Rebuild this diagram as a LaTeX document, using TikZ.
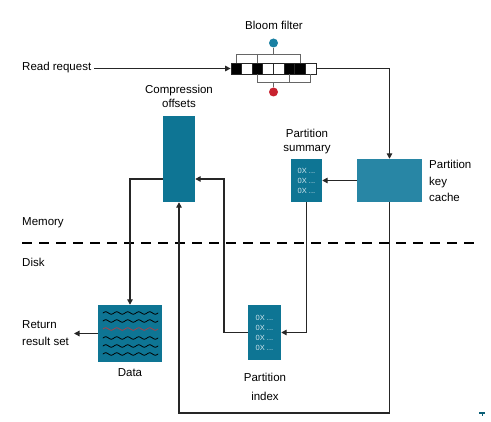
\documentclass[tikz,border=0pt]{standalone}
\usepackage{fontspec}
\setmainfont{Liberation Sans}
\usetikzlibrary{arrows.meta,calc}
\definecolor{teal1}{HTML}{0E7594}
\definecolor{teal2}{HTML}{2886A5}
\definecolor{dotblue}{HTML}{1A80A2}
\definecolor{dotred}{HTML}{C8222F}
\definecolor{wavered}{HTML}{A8404A}
\definecolor{hexcol}{HTML}{CFE4EC}
\tikzset{
  lbl/.style={font=\fontsize{11.5}{14}\selectfont, inner sep=0pt, align=center},
  lbll/.style={font=\fontsize{11.5}{14}\selectfont, inner sep=0pt, align=left},
  tbox/.style={fill=teal1, draw=none, inner sep=0pt},
  hex/.style={font=\fontsize{7.5}{10}\selectfont, text=hexcol, align=left},
  conn/.style={line width=1.3pt, draw=black!85},
  arr/.style={conn, -{Triangle[length=5.5pt,width=5.5pt]}},
  cell/.style={draw=black!85, line width=0.8pt, minimum width=10.625pt, minimum height=11pt, inner sep=0pt},
  brk/.style={draw=black!60, line width=0.8pt},
  wave/.style={line width=0.8pt, line cap=round}
}
\begin{document}
\begin{tikzpicture}[x=1pt,y=-1pt]
\useasboundingbox (0,0) rectangle (491,422);
% labels
\node[lbl] (bftitle) at (274,25) {Bloom filter};
\node[lbll, anchor=west] (readreq) at (22,68) {Read request};
\node[lbl] (complbl) at (179,96) {Compression\\offsets};
\node[lbl] (sumlbl) at (307,142) {Partition\\summary};
\node[lbll, anchor=west, font=\fontsize{11.5}{16.5}\selectfont] (cachelbl) at (429,181) {Partition\\key\\cache};
\node[lbll, anchor=west] (memlbl) at (22,223) {Memory};
\node[lbll, anchor=west] (disklbl) at (22,262) {Disk};
\node[lbll, anchor=west, font=\fontsize{11.5}{16.5}\selectfont] (retlbl) at (22,333) {Return\\result set};
\node[lbl] (datalbl) at (130,373) {Data};
\node[lbl, font=\fontsize{11.5}{19}\selectfont] (idxlbl) at (265,387) {Partition\\index};
% bloom filter cells
\foreach \i/\c in {1/black,2/white,3/black,4/white,5/white,6/black,7/black,8/white}{
  \node[cell, fill=\c] (c\i) at ({231+(\i-0.5)*10.625},68.5) {};
}
% brackets
\coordinate (ub) at (273.5,54);
\coordinate (lb) at (273.5,82);
\draw[brk] (c1.north) -- (c1.north |- ub) -- (c7.north |- ub) -- (c7.north);
\draw[brk] (c3.north |- ub) -- (c3.north);
\draw[brk] (c3.south) -- (c3.south |- lb) -- (c8.south |- lb) -- (c8.south);
\draw[brk] (c6.south |- lb) -- (c6.south);
\node[circle, fill=dotblue, minimum size=9pt, inner sep=0pt] (bdot) at (273.5,43) {};
\node[circle, fill=dotred, minimum size=9pt, inner sep=0pt] (rdot) at (273.5,92) {};
\draw[brk] (bdot) -- (ub);
\draw[brk] (rdot) -- (lb);
% boxes
\node[tbox, minimum width=32pt, minimum height=86pt] (comp) at (179,159) {};
\node[tbox, minimum width=31pt, minimum height=43pt] (sum) at (306.5,180.5) {};
\node[hex] at (sum) {0X ...\\0X ...\\0X ...};
\node[tbox, fill=teal2, minimum width=65pt, minimum height=43pt] (cache) at (389.5,180.5) {};
\node[tbox, minimum width=33pt, minimum height=55pt] (idx) at (264.5,332.5) {};
\node[hex] at (idx) {0X ...\\0X ...\\0X ...\\0X ...};
\node[tbox, minimum width=64pt, minimum height=57pt] (data) at (130,333.5) {};
% waves
\foreach \yy/\cc in {313/black,321/black,329/wavered,338/black,346/black,354/black}{
  \draw[\cc, wave] plot[domain=0:55, samples=80, smooth] ({103+\x}, {\yy-1.2*sin(\x*32.727)});
}
% dashed line
\draw[line width=2.4pt, dash pattern=on 10pt off 7pt] (22,243) -- (476,243);
% connectors
\coordinate (rr) at ($(readreq.east |- c1.west)+(3,0)$);
\coordinate (rt) at (74,333.5);
\draw[arr] (rr) -- (c1.west);
\draw[arr] (c8.east) -| (cache.north);
\draw[arr] (cache.west) -- (sum.east);
\draw[arr] (sum.south) |- (idx.east);
\coordinate (m1) at (224,332.5);
\draw[arr] (idx.west) -- (m1) |- ($(comp.east)+(0,20)$);
\draw[arr] ($(comp.west)+(0,20)$) -| (data.north);
\draw[arr] (data.west) -- (rt);
\coordinate (bot) at (389.5,413);
\draw[arr] (cache.south) -- (bot) -| (comp.south);
% small mark
\fill[teal1!80!black] (479,412.5) rectangle (485,413.6);
\fill[teal1!80!black] (481.5,412.5) rectangle (482.7,416);
\end{tikzpicture}
\end{document}
